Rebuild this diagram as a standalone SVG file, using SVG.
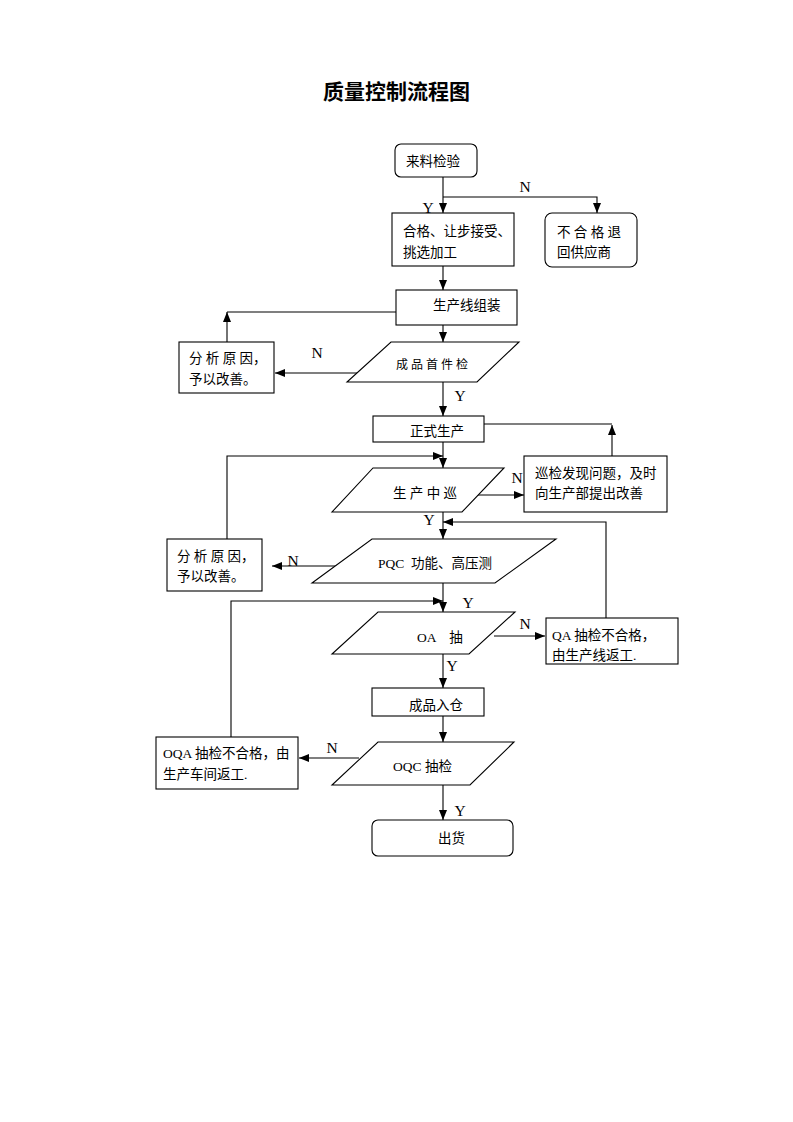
<svg xmlns="http://www.w3.org/2000/svg" width="793" height="1122" viewBox="0 0 793 1122">
<style>
.bg{fill:#fff}
.box{fill:#fff;stroke:#000;stroke-width:1.1}
.ln{fill:none;stroke:#000;stroke-width:1.1}
.arr{fill:none;stroke:#000;stroke-width:1.1;marker-end:url(#ah)}
.t{font-family:"Liberation Serif","Noto Sans CJK SC",serif;font-size:13.5px;fill:#000}
.s{font-size:12px}
.lbl{font-family:"Liberation Serif",serif;font-size:15.5px;fill:#000;text-anchor:middle}
.title{font-family:"Noto Sans CJK SC",sans-serif;font-size:21px;font-weight:bold;fill:#000}
</style>
<defs>
<marker id="ah" markerUnits="userSpaceOnUse" markerWidth="10" markerHeight="8" refX="10" refY="4" orient="auto">
<path d="M0,0 L10,4 L0,8 Z" fill="#000"/>
</marker>
</defs>
<rect class="bg" x="0" y="0" width="793" height="1122"/>
<text class="title" x="323" y="99">质量控制流程图</text>

<g id="connectors">
<path class="arr" d="M443,177 V213"/>
<path class="arr" d="M443,197 H597 V213"/>
<path class="arr" d="M443,266 V290"/>
<path class="arr" d="M443,325 V342"/>
<path class="arr" d="M357,373 H275"/>
<path class="arr" d="M227,342 V312"/>
<path class="ln" d="M227,312 H396"/>
<path class="arr" d="M443,382 V416"/>
<path class="ln" d="M484,424 H612"/>
<path class="arr" d="M612,456 V425"/>
<path class="arr" d="M443,442 V468"/>
<path class="arr" d="M227,539 V456 H443"/>
<path class="arr" d="M473,495 H524"/>
<path class="arr" d="M443,512 V539"/>
<path class="arr" d="M606,618 V522 H443"/>
<path class="arr" d="M342,566 H272"/>
<path class="arr" d="M443,583 V612"/>
<path class="arr" d="M231,737 V601 H443"/>
<path class="arr" d="M494,636 H545"/>
<path class="arr" d="M443,654 V688"/>
<path class="arr" d="M443,716 V742"/>
<path class="arr" d="M359,758 H299"/>
<path class="arr" d="M443,785 V820"/>
</g>

<g id="labels">
<text class="lbl" x="525" y="192">N</text>
<text class="lbl" x="428" y="213">Y</text>
<text class="lbl" x="317" y="358">N</text>
<text class="lbl" x="460" y="401">Y</text>
<text class="lbl" x="517" y="483">N</text>
<text class="lbl" x="429" y="525">Y</text>
<text class="lbl" x="293" y="566">N</text>
<text class="lbl" x="468" y="608">Y</text>
<text class="lbl" x="525" y="629">N</text>
<text class="lbl" x="452" y="671">Y</text>
<text class="lbl" x="332" y="753">N</text>
<text class="lbl" x="460" y="816">Y</text>
</g>

<g id="n-incoming">
<rect class="box" x="395" y="144" width="82" height="33" rx="6"/>
<text class="t" x="406" y="166">来料检验</text>
</g>
<g id="n-accept">
<rect class="box" x="392" y="213" width="122" height="53"/>
<text class="t" x="403" y="236">合格、让步接受、</text>
<text class="t" x="403" y="257">挑选加工</text>
</g>
<g id="n-reject">
<rect class="box" x="545" y="213" width="92" height="54" rx="7"/>
<text class="t" x="557" y="237" xml:space="preserve">不 合 格 退</text>
<text class="t" x="557" y="257">回供应商</text>
</g>
<g id="n-assembly">
<rect class="box" x="396" y="290" width="121" height="35"/>
<text class="t" x="433" y="310">生产线组装</text>
</g>
<g id="n-first">
<polygon class="box" points="391,342 519,342 477,382 347,382"/>
<text class="t s" x="396" y="369" xml:space="preserve">成 品 首 件 检</text>
</g>
<g id="n-analyze1">
<rect class="box" x="179" y="342" width="95" height="51"/>
<text class="t" x="189" y="363" xml:space="preserve">分 析 原 因，</text>
<text class="t" x="189" y="384">予以改善。</text>
</g>
<g id="n-production">
<rect class="box" x="373" y="416" width="111" height="26"/>
<text class="t" x="410" y="436">正式生产</text>
</g>
<g id="n-patrol">
<polygon class="box" points="373,468 504,468 462,512 332,512"/>
<text class="t" x="393" y="498" xml:space="preserve">生 产 中 巡</text>
</g>
<g id="n-patrol-issue">
<rect class="box" x="524" y="456" width="143" height="56"/>
<text class="t" x="535" y="478">巡检发现问题，及时</text>
<text class="t" x="535" y="498">向生产部提出改善</text>
</g>
<g id="n-analyze2">
<rect class="box" x="167" y="539" width="95" height="52"/>
<text class="t" x="177" y="561" xml:space="preserve">分 析 原 因，</text>
<text class="t" x="177" y="581">予以改善。</text>
</g>
<g id="n-pqc">
<polygon class="box" points="372,539 556,539 495,583 312,583"/>
<text class="t" x="378" y="568" xml:space="preserve">PQC  功能、高压测</text>
</g>
<g id="n-oa">
<polygon class="box" points="378,612 515,612 469,654 332,654"/>
<text class="t" x="417" y="642" xml:space="preserve">OA    抽</text>
</g>
<g id="n-qa-fail">
<rect class="box" x="546" y="618" width="132" height="46"/>
<text class="t" x="552" y="640">QA 抽检不合格，</text>
<text class="t" x="552" y="660">由生产线返工.</text>
</g>
<g id="n-warehouse">
<rect class="box" x="372" y="688" width="112" height="28"/>
<text class="t" x="409" y="710">成品入仓</text>
</g>
<g id="n-oqc">
<polygon class="box" points="378,742 514,742 470,785 332,785"/>
<text class="t" x="393" y="771">OQC 抽检</text>
</g>
<g id="n-oqa-fail">
<rect class="box" x="156" y="737" width="142" height="52"/>
<text class="t" x="163" y="758">OQA 抽检不合格，由</text>
<text class="t" x="163" y="779">生产车间返工.</text>
</g>
<g id="n-ship">
<rect class="box" x="372" y="820" width="141" height="36" rx="6"/>
<text class="t" x="438" y="843">出货</text>
</g>
</svg>
